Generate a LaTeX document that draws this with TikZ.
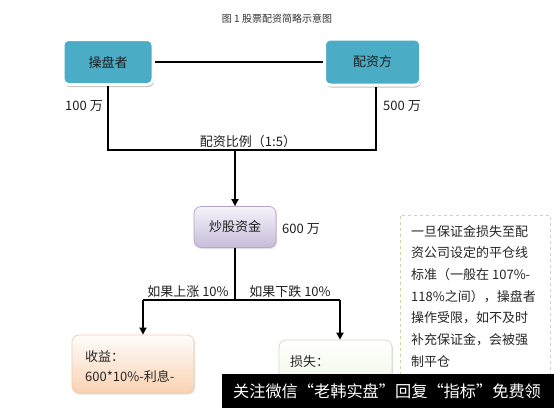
\documentclass[tikz,border=0pt]{standalone}
\usepackage{fontspec}
\setmainfont{Noto Sans CJK SC}
\usetikzlibrary{arrows.meta,shadows,calc}
\definecolor{tealfill}{HTML}{4BACC6}
\definecolor{txt}{HTML}{1E1E1E}
\definecolor{purtop}{HTML}{F6F3FA}
\definecolor{purbot}{HTML}{C7BCDA}
\definecolor{purline}{HTML}{B4A7CB}
\definecolor{peachtop}{HTML}{FFFDFB}
\definecolor{peachbot}{HTML}{FAD2B2}
\definecolor{peachline}{HTML}{F3CDAE}
\definecolor{greentop}{HTML}{FFFFFF}
\definecolor{greenbot}{HTML}{E8F0D6}
\definecolor{greenline}{HTML}{D3DFBA}
\definecolor{dashcol}{HTML}{C9D7A6}
\begin{document}
\begin{tikzpicture}[x=1pt,y=-1pt,
  every node/.style={text=txt},
  base/.style={font=\fontsize{13}{15}\selectfont},
  tealbox/.style={base, rectangle, rounded corners=6pt, fill=tealfill, draw=white, line width=3pt,
     drop shadow={shadow xshift=1pt, shadow yshift=-2.5pt, fill=black, opacity=0.25}},
  gradbox/.style={rectangle, rounded corners=7pt, line width=0.8pt,
     drop shadow={shadow xshift=1pt, shadow yshift=-1.5pt, fill=black, opacity=0.12}},
  conn/.style={line width=2.6pt, black},
  tip/.style={-{Triangle[width=7pt,length=7pt]}},
  lbl/.style={base, inner sep=0pt},
  line/.style={base, anchor=west, inner sep=0pt, text height=10pt, text depth=2pt, text=black!85},
]
\useasboundingbox (0,0) rectangle (554,407);
\clip (0,0) rectangle (554,407);
\fill[white] (0,0) rectangle (554,407);

% title
\node[font=\fontsize{10}{12}\selectfont, text=black!80] (title) at (277,19) {图 1 股票配资简略示意图};

% top boxes
\node[tealbox, minimum width=90pt, minimum height=45pt] (op) at (108,62) {操盘者};
\node[tealbox, minimum width=96pt, minimum height=46pt] (pz) at (372.5,62) {配资方};
\draw[conn] (op.east) -- (pz.west);

\coordinate (jL) at (108,150);
\coordinate (jR) at (376,150);
\coordinate (jM) at (235,150);
\draw[conn] (op.south) -- (jL) -- (jR) -- (jR |- pz.south);

\node[lbl, anchor=east] (l100) at (103,106) {100 万};
\node[lbl, anchor=west] (l500) at (383,106) {500 万};
\node[lbl] (ratio) at (248,142) {配资比例（1:5）};

% fund box
\node[gradbox, base, top color=purtop, bottom color=purbot, draw=purline,
      minimum width=82pt, minimum height=41pt] (fund) at (235,227) {炒股资金};
\draw[conn, tip] (jM) -- (fund.north);
\node[lbl, anchor=west] (l600) at (282,229) {600 万};

% branches
\coordinate (jB) at (235,300);
\coordinate (jBL) at (143,300);
\coordinate (jBR) at (340,300);

% gain / loss boxes
\node[gradbox, top color=peachtop, bottom color=peachbot, draw=peachline,
      minimum width=122pt, minimum height=58pt] (gain) at (133,364) {};
\node[gradbox, top color=greentop, bottom color=greenbot, draw=greenline,
      minimum width=113pt, minimum height=80pt] (loss) at (335.5,380) {};

\draw[conn] (fund.south) -- (jB);
\draw[conn] (jBL) -- (jBR);
\draw[conn, tip] (jBL) -- (jBL |- gain.north);
\draw[conn, tip] (jBR) -- (jBR |- loss.north);

\node[lbl] (up) at (188,292) {如果上涨 10\%};
\node[lbl] (down) at (290,292) {如果下跌 10\%};

\node[line] (g1) at (85,357) {收益：};
\node[line] (g2) at (85,377) {600*10\%-利息-};
\node[line] (s1) at (290,362) {损失：};
\node[line] (s2) at (290,383) {600*10\%-利息-};

% note box
\node[draw=dashcol, dashed, line width=0.8pt, rectangle, minimum width=150pt, minimum height=215pt, inner sep=0pt] (note) at (475,322.5) {};
\foreach \t [count=\i] in {一旦保证金损失至配, 资公司设定的平仓线, 标准（一般在 107\%-, {118\%之间），操盘者}, {操作受限，如不及时}, {补充保证金，会被强}, 制平仓}
  \node[line] (n\i) at (411,{232+(\i-1)*21.7}) {\t};

% watermark bar
\fill[black] (222,374) rectangle (554,410);
\node[font=\fontsize{16.2}{18}\selectfont, text=white, inner sep=0pt] (bar) at (387,391) {关注微信“老韩实盘”回复“指标”免费领};
\end{tikzpicture}
\end{document}
